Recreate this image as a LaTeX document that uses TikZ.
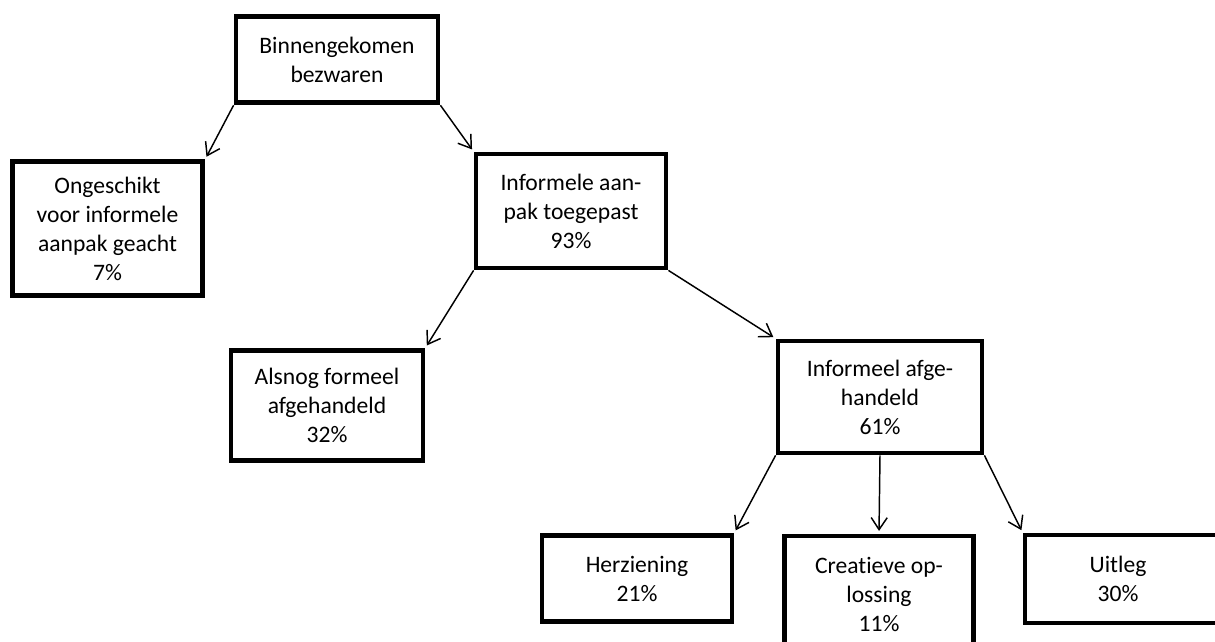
\documentclass[tikz,border=0pt]{standalone}
\usepackage{fontspec}
\setmainfont{Carlito}[Ligatures=NoCommon]
\usetikzlibrary{arrows.meta, positioning, calc}

\tikzset{
  box/.style={draw, line width=3.6pt, align=center, inner sep=0pt,
    font=\fontsize{17.7}{21.75}\selectfont},
  link/.style={line width=1.1pt, -{Straight Barb[length=9pt, width=12pt, line width=1.1pt]}, shorten >=2pt}
}

\begin{document}
\begin{tikzpicture}[x=0.75pt, y=-0.75pt]
  \clip (0,0) rectangle (1215,642);
  \fill[white] (0,0) rectangle (1215,642);
  % boxes
  \node[box, minimum width=151.5pt, minimum height=65pt] (binnen) at (337,59.5) {Binnengekomen\\bezwaren};
  \node[box, minimum width=143pt, minimum height=100.5pt] (ongeschikt) at (107.5,228.5) {Ongeschikt\\voor informele\\aanpak geacht\\7\%};
  \node[box, minimum width=142.5pt, minimum height=85.5pt] (informele) at (571,211) {Informele aan-\\pak toegepast\\93\%};
  \node[box, minimum width=144pt, minimum height=83pt] (alsnog) at (327,405.5) {Alsnog formeel\\afgehandeld\\32\%};
  \node[box, minimum width=153pt, minimum height=84pt] (afgehandeld) at (880,397) {Informeel afge-\\handeld\\61\%};
  \node[box, minimum width=142.5pt, minimum height=65pt] (herziening) at (637,578.5) {Herziening\\21\%};
  \node[box, minimum width=141.75pt, minimum height=87pt] (creatief) at (879,594) {Creatieve op-\\lossing\\11\%};
  \node[box, minimum width=150pt, minimum height=66pt] (uitleg) at (1125,579) {};
  \node[font=\fontsize{17.7}{21.75}\selectfont, align=center] (uitlegtxt) at (1118,579) {Uitleg\\30\%};
  % arrows
  \draw[link] (binnen.south west) -- (ongeschikt.north east);
  \draw[link] (binnen.south east) -- (informele.north west);
  \draw[link] (informele.south west) -- (alsnog.north east);
  \draw[link] (informele.south east) -- (afgehandeld.north west);
  \draw[link] (afgehandeld.south west) -- (herziening.north east);
  \draw[link] (afgehandeld.south) -- (creatief.north);
  \draw[link] (afgehandeld.south east) -- (uitleg.north west);
\end{tikzpicture}
\end{document}
